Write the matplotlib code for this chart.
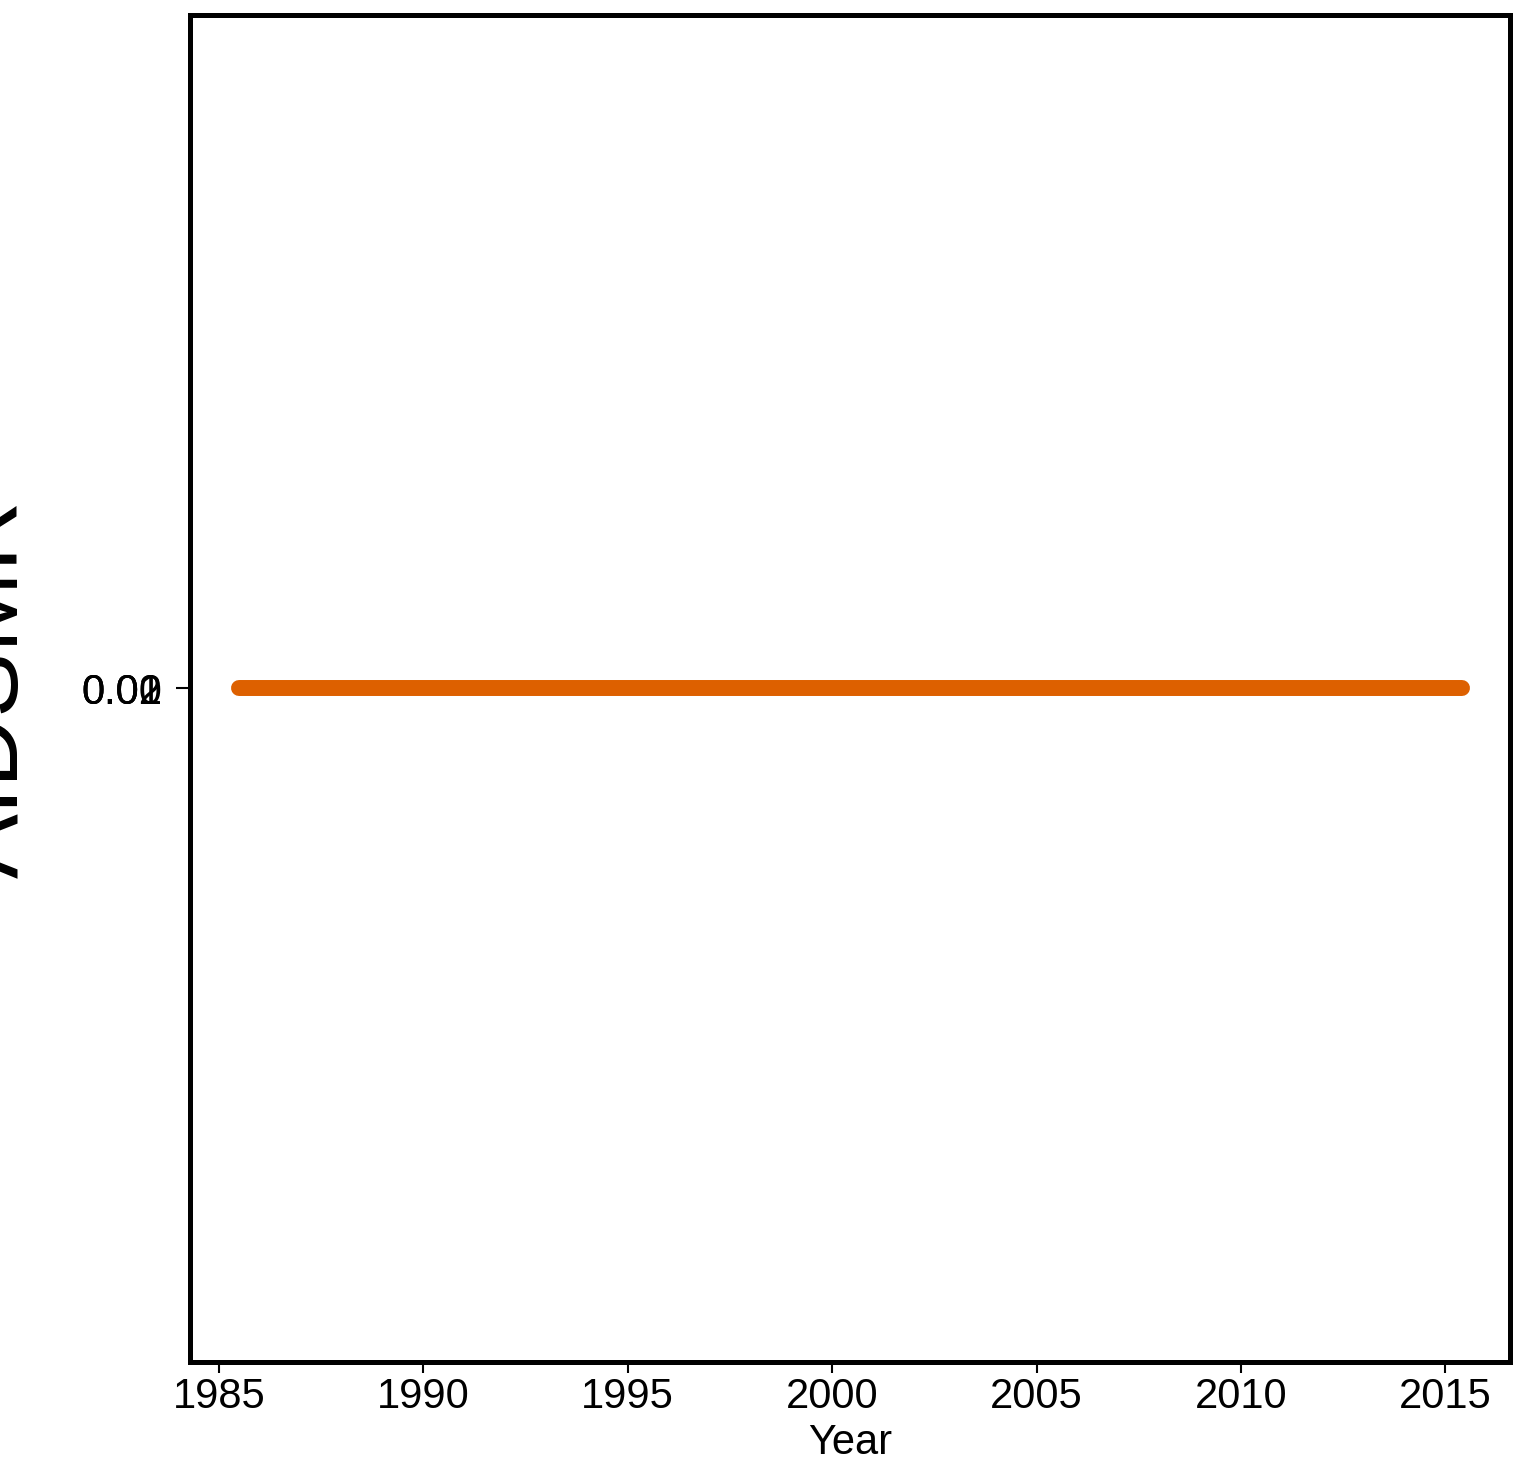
import matplotlib
matplotlib.use("Agg")
import matplotlib.pyplot as plt
from matplotlib.transforms import offset_copy

plt.rcParams['font.family'] = ['Liberation Sans', 'DejaVu Sans']

# all-zero series, one value per year
years = [1985.5, 1986.5, 1987.5, 1988.5, 1989.5, 1990.5, 1991.5, 1992.5, 1993.5, 1994.5,
         1995.5, 1996.5, 1997.5, 1998.5, 1999.5, 2000.5, 2001.5, 2002.5, 2003.5, 2004.5,
         2005.5, 2006.5, 2007.5, 2008.5, 2009.5, 2010.5, 2011.5, 2012.5, 2013.5, 2014.5,
         2015.4]
aidsmr = [0.0] * len(years)

x_ticks = [1985, 1990, 1995, 2000, 2005, 2010, 2015]
y_tick_labels = ['0.00', '0.01', '0.02']

fig = plt.figure(figsize=(15.37, 14.65), dpi=100)
ax = fig.add_axes([0.1236, 0.0703, 0.8588, 0.9195])

ax.plot(years, aidsmr, color='#DD6000', linewidth=11.5, solid_capstyle='round')

ax.set_xlim(1984.29, 2016.58)
ax.set_ylim(-1, 1)
ax.set_xticks(x_ticks)
ax.set_xticklabels([str(t) for t in x_ticks], fontsize=30)

ax.set_yticks([0.0])
ax.set_yticklabels([''])

ax.tick_params(axis='x', length=8, width=1.5, pad=3)
ax.tick_params(axis='y', length=10, width=1.5, pad=10)

# the three labels all land on the same spot, drawn on top of each other
lab_tr = offset_copy(ax.get_yaxis_transform(), fig=fig, x=-20, y=0, units='points')
for lbl in y_tick_labels:
    ax.text(0, 0.0, lbl, transform=lab_tr, fontsize=30, ha='right', va='center_baseline')

for s in ax.spines.values():
    s.set_linewidth(3.6)

ax.set_xlabel('Year', fontsize=30, labelpad=4)
fig.text(-0.0045, 0.53, 'AIDSMR', rotation=90, fontsize=70, ha='center', va='center')

fig.savefig('out.png', dpi=100)
